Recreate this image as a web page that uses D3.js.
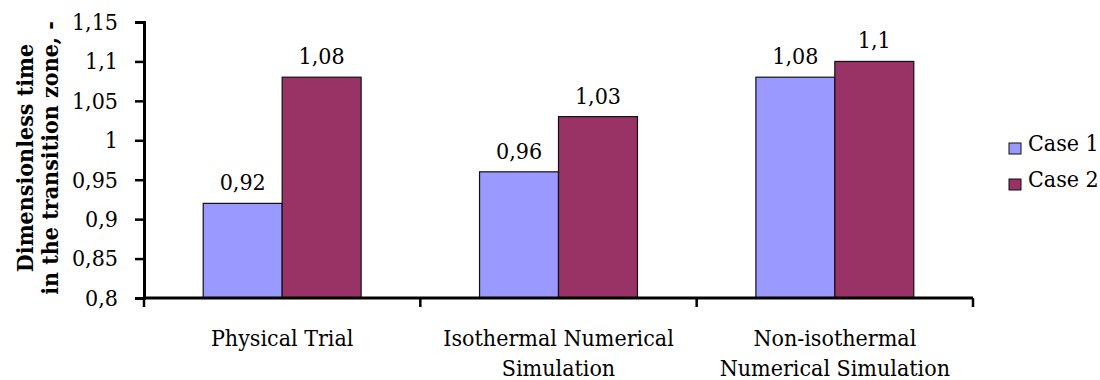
<!DOCTYPE html>
<html>
<head>
<meta charset="utf-8">
<script src="https://cdn.jsdelivr.net/npm/d3@7"></script>
<style>
  html, body { margin: 0; padding: 0; background: #fff; }
  svg { display: block; }
</style>
</head>
<body>
<svg id="chart" width="1100" height="380"></svg>
<script>
// Chart data
const categories = [
  ["Physical Trial"],
  ["Isothermal Numerical", "Simulation"],
  ["Non-isothermal", "Numerical Simulation"]
];
const seriesNames = ["Case 1", "Case 2"];
const case1Values = [0.92, 0.96, 1.08];
const case2Values = [1.08, 1.03, 1.10];
const yTickValues = [0.8, 0.85, 0.9, 0.95, 1.0, 1.05, 1.1, 1.15];
const yTickLabels = ["0,8", "0,85", "0,9", "0,95", "1", "1,05", "1,1", "1,15"];
const yTitleLines = ["Dimensionless time", "in the transition zone, -"];

const colors = { "Case 1": "#9999FF", "Case 2": "#993366" };
const seriesValues = { "Case 1": case1Values, "Case 2": case2Values };
const catKeys = categories.map(c => c.join(" "));

const svg = d3.select("#chart");
const plotLeft = 144, plotRight = 973, plotTop = 22, plotBottom = 298;
const fontSize = 23;
const fontStyle = "font-family: 'DejaVu Serif Condensed', 'DejaVu Serif', serif; font-stretch: condensed";

const x0 = d3.scaleBand().domain(catKeys).range([plotLeft, plotRight]).padding(0);
const x1 = d3.scaleBand().domain(seriesNames).range([0, x0.bandwidth()])
  .paddingInner(0).paddingOuter(0.75);
const y = d3.scaleLinear().domain([0.8, 1.15]).range([plotBottom, plotTop]);

const fmt = v => String(+v.toFixed(2)).replace(".", ",");

// Bars
const groups = svg.append("g").selectAll("g")
  .data(catKeys)
  .join("g")
  .attr("transform", d => `translate(${x0(d)},0)`);

groups.selectAll("rect")
  .data((d, i) => seriesNames.map(s => ({ s, v: seriesValues[s][i] })))
  .join("rect")
  .attr("x", d => x1(d.s))
  .attr("y", d => y(d.v))
  .attr("width", x1.bandwidth())
  .attr("height", d => y(0.8) - y(d.v))
  .attr("fill", d => colors[d.s])
  .attr("stroke", "#111")
  .attr("stroke-width", 1.2);

// Value labels
groups.selectAll("text.val")
  .data((d, i) => seriesNames.map(s => ({ s, v: seriesValues[s][i] })))
  .join("text")
  .attr("class", "val")
  .attr("style", fontStyle)
  .attr("x", d => x1(d.s) + x1.bandwidth() / 2)
  .attr("y", d => y(d.v) - 13)
  .attr("text-anchor", "middle")
  .attr("font-size", fontSize)
  .attr("fill", "#000")
  .text(d => fmt(d.v));

// Y axis
const yAxis = d3.axisLeft(y)
  .tickValues(yTickValues)
  .tickFormat((d, i) => yTickLabels[i])
  .tickSize(9)
  .tickPadding(17);
const yg = svg.append("g").attr("transform", `translate(${plotLeft},0)`).call(yAxis);
yg.select(".domain").attr("stroke", "#000").attr("stroke-width", 3);
yg.selectAll(".tick line").attr("stroke", "#000").attr("stroke-width", 2.5);
yg.selectAll(".tick text").attr("style", fontStyle).attr("font-size", fontSize).attr("fill", "#000");

// X axis: ticks at category boundaries
const xg = svg.append("g").attr("transform", `translate(0,${plotBottom})`);
xg.append("line")
  .attr("x1", plotLeft).attr("x2", plotRight).attr("y1", 0).attr("y2", 0)
  .attr("stroke", "#000").attr("stroke-width", 3);
const boundaries = catKeys.map(k => x0(k)).concat([x0(catKeys[catKeys.length - 1]) + x0.bandwidth()]);
xg.selectAll("line.tick")
  .data(boundaries)
  .join("line")
  .attr("class", "tick")
  .attr("x1", d => d).attr("x2", d => d)
  .attr("y1", 0).attr("y2", 9)
  .attr("stroke", "#000").attr("stroke-width", 2.5);

// Category labels
const catLabels = svg.append("g").selectAll("text")
  .data(categories)
  .join("text")
  .attr("style", fontStyle)
  .attr("x", (d, i) => x0(catKeys[i]) + x0.bandwidth() / 2)
  .attr("y", 346)
  .attr("text-anchor", "middle")
  .attr("font-size", fontSize)
  .attr("fill", "#000");
catLabels.selectAll("tspan")
  .data(d => d)
  .join("tspan")
  .attr("x", function () { return d3.select(this.parentNode).attr("x"); })
  .attr("dy", (d, i) => i === 0 ? 0 : 30)
  .text(d => d);

// Y axis title
const yTitle = svg.append("text")
  .attr("style", fontStyle)
  .attr("transform", `translate(0,158) rotate(-90)`)
  .attr("text-anchor", "middle")
  .attr("font-size", fontSize)
  .attr("font-weight", "bold")
  .attr("fill", "#000");
yTitle.selectAll("tspan")
  .data(yTitleLines)
  .join("tspan")
  .attr("x", 0)
  .attr("y", (d, i) => 33 + i * 25)
  .text(d => d);

// Legend
const legend = svg.append("g").selectAll("g")
  .data(seriesNames)
  .join("g")
  .attr("transform", (d, i) => `translate(1009,${151 + i * 36})`);
legend.append("rect")
  .attr("x", 0).attr("y", -8)
  .attr("width", 12).attr("height", 11)
  .attr("fill", d => colors[d])
  .attr("stroke", "#111").attr("stroke-width", 1);
legend.append("text")
  .attr("style", fontStyle)
  .attr("x", 19).attr("y", 0)
  .attr("font-size", fontSize)
  .attr("fill", "#000")
  .text(d => d);
</script>
</body>
</html>
